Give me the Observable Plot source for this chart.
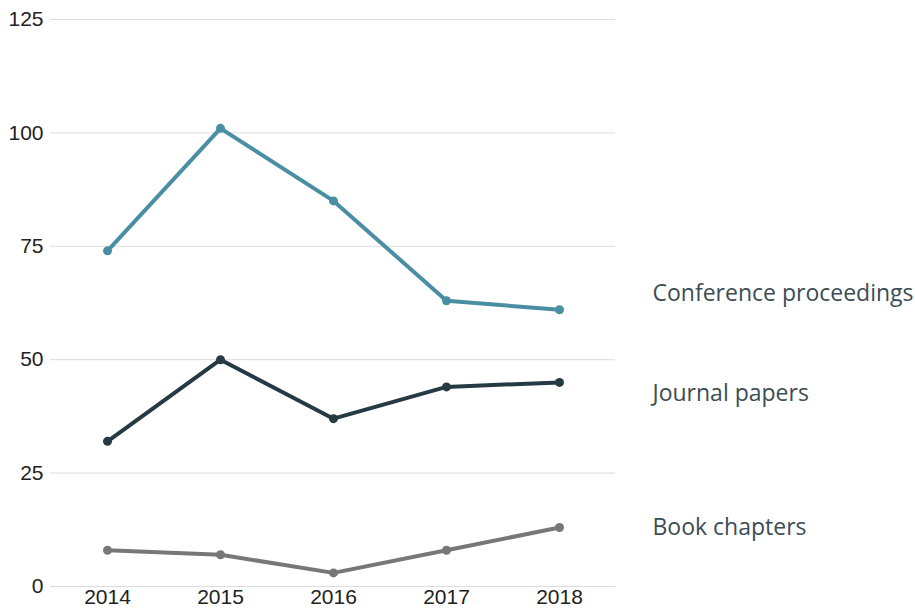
<!DOCTYPE html>
<html>
<head>
<meta charset="utf-8">
<script src="https://cdn.jsdelivr.net/npm/d3@7"></script>
<script src="https://cdn.jsdelivr.net/npm/@observablehq/plot@0.6"></script>
<style>
  html, body { margin: 0; padding: 0; background: #fff; }
  #chart svg { display: block; }
</style>
</head>
<body>
<div id="chart"></div>
<script>
const years = [2014, 2015, 2016, 2017, 2018];
const seriesNames = ["Conference proceedings", "Journal papers", "Book chapters"];
const conference = [74, 101, 85, 63, 61];
const journal = [32, 50, 37, 44, 45];
const books = [8, 7, 3, 8, 13];
const seriesColors = ["#4a8ea3", "#253a42", "#777777"];
const labelValues = [64.5, 42.5, 13];
const yTicks = [0, 25, 50, 75, 100, 125];

const valuesBySeries = [conference, journal, books];
const data = [];
seriesNames.forEach((s, i) => years.forEach((y, j) => data.push({series: s, year: y, value: valuesBySeries[i][j]})));
const labels = seriesNames.map((s, i) => ({series: s, year: years[years.length - 1], value: labelValues[i]}));

const chart = Plot.plot({
  width: 915,
  height: 612,
  marginLeft: 50,
  marginRight: 300,
  marginTop: 19,
  marginBottom: 26,
  style: {fontFamily: "Liberation Sans, Arial, sans-serif", fontSize: "21px", color: "#222"},
  x: {type: "point", domain: years, padding: 0.5, label: null, tickSize: 0, tickPadding: 3, tickFormat: d => String(d)},
  y: {domain: [0, 125], ticks: yTicks, label: null, tickSize: 0, tickPadding: 7},
  color: {domain: seriesNames, range: seriesColors},
  marks: [
    Plot.ruleY(yTicks, {stroke: "#dcdcdc", strokeWidth: 1}),
    Plot.line(data, {x: "year", y: "value", z: "series", stroke: "series", strokeWidth: 4}),
    Plot.dot(data, {x: "year", y: "value", fill: "series", r: 4.5}),
    Plot.text(labels, {x: "year", y: "value", text: "series", textAnchor: "start", dx: 93,
      fill: "#3b4d55", fontSize: 23, fontFamily: "Open Sans, sans-serif"})
  ]
});
document.getElementById("chart").appendChild(chart);
</script>
</body>
</html>
